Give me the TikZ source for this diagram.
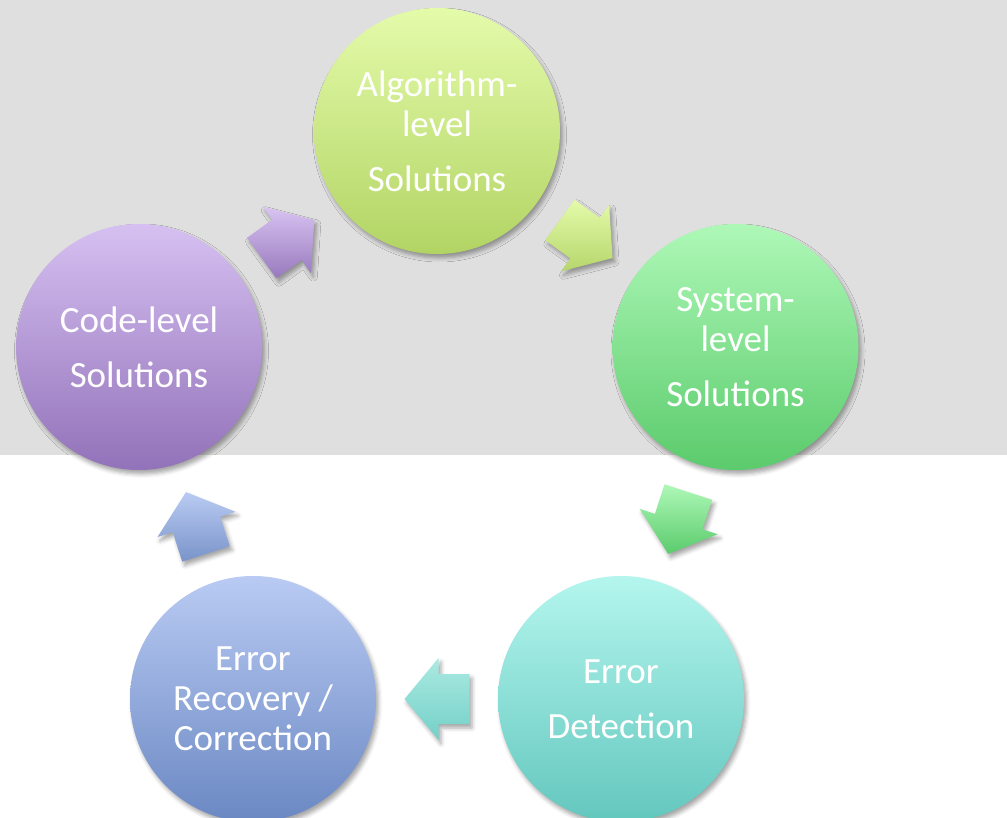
\documentclass[tikz,border=0pt]{standalone}
\usepackage{fontspec}
\setmainfont{Carlito}
\usetikzlibrary{calc,shadows.blur}

\definecolor{bandgray}{HTML}{DFDFDF}
\definecolor{algoTop}{HTML}{E4FBAA}\definecolor{algoBot}{HTML}{B2D464}
\definecolor{sysTop}{HTML}{AEF8B7}\definecolor{sysBot}{HTML}{5BCB6C}
\definecolor{detTop}{HTML}{B4F6EE}\definecolor{detBot}{HTML}{63C7BE}
\definecolor{recTop}{HTML}{B9CBF3}\definecolor{recBot}{HTML}{6B88C3}
\definecolor{codeTop}{HTML}{D6C0F1}\definecolor{codeBot}{HTML}{9272B9}

\tikzset{
  softshadow/.style={blur shadow={shadow xshift=2.5pt, shadow yshift=-4pt,
      shadow opacity=35, shadow blur radius=4pt}},
  stage/.style={circle, minimum size=246pt, inner sep=0pt, align=center,
      text=white, font=\fontsize{37}{40}\selectfont, softshadow},
  blockarrow/.style={softshadow}
}

% Block arrow centred between two stages, pointing from #1 to #2
\newcommand\cyclearrow[4]{%
  \coordinate (am) at ($(#1)!0.5!(#2)$);
  \coordinate (at) at ($(am)!-32.5pt!(#2)$);
  \coordinate (ah) at ($(am)!-1.5pt!(#2)$);
  \coordinate (ap) at ($(am)!32.5pt!(#2)$);
  \shade[blockarrow, top color=#3, bottom color=#4]
    ($(at)!25pt!90:(ap)$) -- ($(ah)!25pt!90:(ap)$) -- ($(ah)!41pt!90:(ap)$)
    -- (ap)
    -- ($(ah)!41pt!-90:(ap)$) -- ($(ah)!25pt!-90:(ap)$) -- ($(at)!25pt!-90:(ap)$)
    -- cycle;}

\begin{document}
\begin{tikzpicture}[x=1pt,y=-1pt]
  \useasboundingbox (0,0) rectangle (1007,818);
  \clip (0,0) rectangle (1007,818);
  \fill[bandgray] (0,0) rectangle (1007,454.5);

  \node[stage, top color=algoTop, bottom color=algoBot] (algo) at (437,131)
    {Algorithm-\\level\\[15pt]Solutions};
  \node[stage, top color=sysTop, bottom color=sysBot] (sys) at (735.5,347)
    {System-\\level\\[15pt]Solutions};
  \node[stage, top color=detTop, bottom color=detBot] (det) at (621,699)
    {Error\\[15pt]Detection};
  \node[stage, top color=recTop, bottom color=recBot] (rec) at (253,699)
    {Error\\Recovery /\\Correction};
  \node[stage, top color=codeTop, bottom color=codeBot] (code) at (139,347)
    {Code-level\\[15pt]Solutions};

  \cyclearrow{code}{algo}{codeTop!95!white}{codeBot!95!white}
  \cyclearrow{algo}{sys}{algoTop}{algoBot!95!white}
  \cyclearrow{sys}{det}{sysTop}{sysBot}
  \cyclearrow{det}{rec}{detTop!95!black}{detBot!80!detTop}
  \cyclearrow{rec}{code}{recTop}{recBot!90!white}
\end{tikzpicture}
\end{document}
